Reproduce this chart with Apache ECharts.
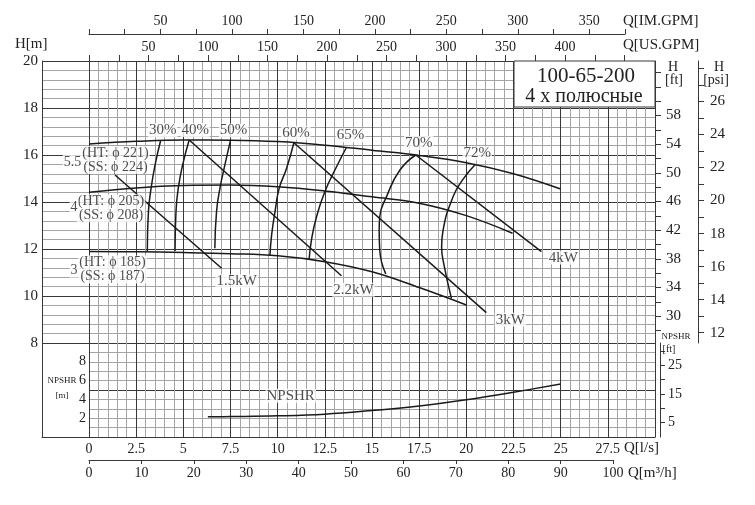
<!DOCTYPE html>
<html lang="ru">
<head>
<meta charset="UTF-8">
<title>100-65-200</title>
<style>
html, body { margin: 0; padding: 0; background: #fff; }
#chart { width: 755px; height: 505px; }
</style>
</head>
<body>
<div id="chart"></div>
<script src="https://cdn.jsdelivr.net/npm/echarts@6/dist/echarts.min.js"></script>
<script>
// H-Q curves, Q in l/s, H in m
var qCurve55 = [0, 2.5, 5, 7.5, 10, 12.5, 15, 17.5, 20, 22.5, 25];
var hCurve55 = [16.47, 16.58, 16.64, 16.63, 16.57, 16.42, 16.2, 15.98, 15.67, 15.2, 14.55];
var qCurve4 = [0, 2.5, 5, 7.5, 10, 12.5, 15, 17.5, 20, 22.45];
var hCurve4 = [14.41, 14.6, 14.7, 14.72, 14.65, 14.47, 14.22, 13.95, 13.42, 12.67];
var qCurve3 = [0, 2.5, 5, 7.5, 10, 12.5, 15, 17.5, 20];
var hCurve3 = [11.89, 11.88, 11.85, 11.8, 11.71, 11.46, 11.03, 10.36, 9.62];

// iso-efficiency curves (top point first)
var qEff30 = [3.8, 3.5, 3.29, 3.15, 3.09];
var hEff30 = [16.63, 15.57, 14.58, 13.59, 11.92];
var qEff40 = [5.31, 4.96, 4.73, 4.61, 4.56];
var hEff40 = [16.64, 15.57, 14.58, 13.59, 11.91];
var qEff50 = [7.5, 7.2, 6.94, 6.76, 6.67];
var hEff50 = [16.62, 15.57, 14.58, 13.59, 12.03];
var qEff60 = [10.86, 10.47, 10.08, 9.86, 9.68, 9.59];
var hEff60 = [16.52, 15.43, 14.58, 13.59, 12.6, 11.72];
var qEff65 = [13.65, 13.12, 12.5, 12.06, 11.79, 11.67];
var hEff65 = [16.33, 15.5, 14.44, 13.37, 12.38, 11.58];
var qEff70 = [17.32, 16.48, 15.77, 15.41, 15.38, 15.41, 15.73];
var hEff70 = [16.0, 15.36, 14.23, 13.37, 12.81, 11.96, 10.94];
var qEff72 = [20.47, 19.8, 19.3, 18.77, 18.69, 18.8, 19.21];
var hEff72 = [15.6, 14.94, 14.23, 12.81, 12.1, 11.39, 9.9];

// power lines
var qP15 = [1.38, 7.03],   hP15 = [15.15, 11.18];
var qP22 = [5.31, 13.38],  hP22 = [16.64, 10.86];
var qP3  = [10.86, 21.06], hP3  = [16.52, 9.29];
var qP4  = [17.32, 23.98], hP4  = [16.0, 11.89];

// NPSHR, m
var qNpsh = [6.3, 7.5, 10, 12.5, 15, 17.5, 20, 22.5, 25];
var nNpsh = [2.15, 2.17, 2.25, 2.43, 2.82, 3.3, 3.96, 4.76, 5.64];

// tick labels
var usGpmTicks = [], usGpmLabels = [50, 100, 150, 200, 250, 300, 350, 400];
for (var g = 0; g <= 450; g += 25) usGpmTicks.push(g);
var imGpmTicks = [], imGpmLabels = [50, 100, 150, 200, 250, 300, 350];
for (var g2 = 0; g2 <= 375; g2 += 25) imGpmTicks.push(g2);
var ftTicks = [], ftLabels = [30, 34, 38, 42, 46, 50, 54, 58];
for (var f = 28; f <= 64; f += 2) ftTicks.push(f);
var psiTicks = [], psiLabels = [12, 14, 16, 18, 20, 22, 24, 26];
for (var p = 12; p <= 28; p++) psiTicks.push(p);
var npshFtTicks = [5, 10, 15, 20, 25, 30], npshFtLabels = [5, 15, 25];
var npshMLabels = [2, 4, 6, 8];

// unit factors
var M_FT = 3.28084, M_PSI = 1.42233, LS_USGPM = 15.8503, LS_IMGPM = 13.1982, LS_M3H = 3.6;

var FONT = 'Liberation Serif';
var INK = '#222';
var MAJOR = '#383838';
var MINOR = '#a4a4a4';
var PX_PER_LS = 566 / 30;

function pairs(q, h) {
    return q.map(function (v, i) { return [v, h[i]]; });
}
function last(q, h) {
    return [q[q.length - 1], h[h.length - 1]];
}
function tag(pt, text, dx, dy, size) {
    return {
        value: pt,
        label: {
            show: true, position: 'inside', offset: [dx, dy], formatter: text,
            fontFamily: FONT, fontSize: size || 15, color: INK,
            backgroundColor: '#fff', padding: [0, 1], lineHeight: 14
        }
    };
}
function curve(q, h, smooth, yIdx) {
    return {
        type: 'line', xAxisIndex: 0, yAxisIndex: yIdx || 0,
        data: pairs(q, h), smooth: smooth, symbol: 'none', silent: true,
        lineStyle: { color: '#1a1a1a', width: 1.5 }, z: 3
    };
}
function hidden(gi) {
    return { gridIndex: gi, type: 'value', show: false, min: 0, max: 1 };
}
var lbl = { fontFamily: FONT, fontSize: 14, color: INK };

var chart = echarts.init(document.getElementById('chart'));

var option = {
    backgroundColor: '#fff',
    animation: false,
    grid: [
        { left: 89, top: 61, width: 566, height: 376, outerBoundsMode: 'none' },
        { left: 42, top: 61, width: 47, height: 282, outerBoundsMode: 'none' },
        { left: 42, top: 343, width: 47, height: 94, outerBoundsMode: 'none' },
        { left: 89, top: 34, width: 375 / LS_IMGPM * PX_PER_LS, height: 1, outerBoundsMode: 'none' },
        { left: 89, top: 459, width: 100 / LS_M3H * PX_PER_LS, height: 1, outerBoundsMode: 'none' },
        { left: 697, top: 61, width: 1, height: 282, outerBoundsMode: 'none' },
        { left: 659, top: 343, width: 1, height: 94, outerBoundsMode: 'none' }
    ],
    xAxis: [
        {
            gridIndex: 0, type: 'value', position: 'bottom', min: 0, max: 30, interval: 2.5,
            axisLine: { show: true, onZero: false, lineStyle: { color: MAJOR } },
            axisTick: { show: false },
            axisLabel: Object.assign({ margin: 5, formatter: function (v) { return v >= 30 ? '' : String(v); } }, lbl),
            splitLine: { show: true, lineStyle: { color: MAJOR, width: 1 } },
            minorTick: { show: false, splitNumber: 5 },
            minorSplitLine: { show: true, lineStyle: { color: MINOR, width: 1 } }
        },
        {
            gridIndex: 0, type: 'value', position: 'top', min: 0, max: 30 * LS_USGPM,
            axisLine: { show: true, onZero: false, lineStyle: { color: MAJOR } },
            axisTick: { show: true, length: 6, customValues: usGpmTicks, lineStyle: { color: MAJOR } },
            axisLabel: Object.assign({ margin: 7, customValues: usGpmLabels }, lbl),
            splitLine: { show: false }
        },
        hidden(1),
        {
            gridIndex: 2, type: 'value', position: 'bottom', min: 0, max: 1,
            axisLine: { show: true, onZero: false, lineStyle: { color: MAJOR } },
            axisTick: { show: false }, axisLabel: { show: false }, splitLine: { show: false }
        },
        {
            gridIndex: 3, type: 'value', position: 'top', min: 0, max: 375,
            axisLine: { show: true, onZero: false, lineStyle: { color: MAJOR } },
            axisTick: { show: true, length: 5, customValues: imGpmTicks, lineStyle: { color: MAJOR } },
            axisLabel: Object.assign({ margin: 6, customValues: imGpmLabels }, lbl),
            splitLine: { show: false }
        },
        {
            gridIndex: 4, type: 'value', position: 'bottom', min: 0, max: 100, interval: 10,
            axisLine: { show: true, onZero: false, lineStyle: { color: MAJOR } },
            axisTick: { show: true, length: 4, lineStyle: { color: MAJOR } },
            axisLabel: Object.assign({ margin: 6 }, lbl),
            splitLine: { show: false }
        },
        hidden(5),
        hidden(6)
    ],
    yAxis: [
        {
            gridIndex: 0, type: 'value', position: 'left', min: 4, max: 20, interval: 2,
            axisLine: { show: false }, axisTick: { show: false }, axisLabel: { show: false },
            splitLine: { show: true, lineStyle: { color: MAJOR, width: 1 } },
            minorTick: { show: false, splitNumber: 5 },
            minorSplitLine: { show: true, lineStyle: { color: MINOR, width: 1 } }
        },
        {
            gridIndex: 0, type: 'value', position: 'left', min: 0, max: 40,
            axisLine: { show: false }, axisTick: { show: false }, splitLine: { show: false },
            axisLabel: Object.assign({ margin: 3, customValues: npshMLabels }, lbl)
        },
        {
            gridIndex: 0, type: 'value', position: 'right', min: 4 * M_FT, max: 20 * M_FT,
            axisLine: { show: true, onZero: false, lineStyle: { color: MAJOR } },
            axisTick: { show: true, length: 6, customValues: ftTicks, lineStyle: { color: MAJOR } },
            axisLabel: Object.assign({ margin: 11, customValues: ftLabels }, lbl, { fontSize: 15 }),
            splitLine: { show: false }
        },
        {
            gridIndex: 1, type: 'value', position: 'left', min: 8, max: 20, interval: 2,
            axisLine: { show: true, onZero: false, lineStyle: { color: MAJOR } },
            axisTick: { show: false },
            axisLabel: Object.assign({ margin: 4 }, lbl, { fontSize: 15 }),
            splitLine: { show: true, lineStyle: { color: MAJOR, width: 1 } },
            minorTick: { show: false, splitNumber: 5 },
            minorSplitLine: { show: true, lineStyle: { color: MINOR, width: 1 } }
        },
        {
            gridIndex: 2, type: 'value', position: 'left', min: 0, max: 1,
            axisLine: { show: true, onZero: false, lineStyle: { color: MAJOR } },
            axisTick: { show: false }, axisLabel: { show: false }, splitLine: { show: false }
        },
        hidden(3),
        hidden(4),
        {
            gridIndex: 5, type: 'value', position: 'right', min: 8 * M_PSI, max: 20 * M_PSI,
            axisLine: { show: true, onZero: false, lineStyle: { color: MAJOR } },
            axisTick: { show: true, length: 6, customValues: psiTicks, lineStyle: { color: MAJOR } },
            axisLabel: Object.assign({ margin: 12, customValues: psiLabels }, lbl, { fontSize: 15 }),
            splitLine: { show: false }
        },
        {
            gridIndex: 6, type: 'value', position: 'right', min: 0, max: 10 * M_FT,
            axisLine: { show: true, onZero: false, lineStyle: { color: MAJOR } },
            axisTick: { show: true, length: 5, customValues: npshFtTicks, lineStyle: { color: MAJOR } },
            axisLabel: Object.assign({ margin: 8, customValues: npshFtLabels }, lbl),
            splitLine: { show: false }
        }
    ],
    series: [
        curve(qCurve55, hCurve55, 0.4),
        curve(qCurve4, hCurve4, 0.4),
        curve(qCurve3, hCurve3, 0.4),
        curve(qEff30, hEff30, 0.5),
        curve(qEff40, hEff40, 0.5),
        curve(qEff50, hEff50, 0.5),
        curve(qEff60, hEff60, 0.5),
        curve(qEff65, hEff65, 0.5),
        curve(qEff70, hEff70, 0.5),
        curve(qEff72, hEff72, 0.5),
        curve(qP15, hP15, false),
        curve(qP22, hP22, false),
        curve(qP3, hP3, false),
        curve(qP4, hP4, false),
        curve(qNpsh, nNpsh, 0.4, 1),
        {
            type: 'scatter', xAxisIndex: 0, yAxisIndex: 0, clip: false, silent: true, z: 10,
            symbol: 'rect', symbolSize: 1, itemStyle: { color: 'rgba(0,0,0,0)' },
            data: [
                tag([qEff30[0], hEff30[0]], '30%', 2, -10),
                tag([qEff40[0], hEff40[0]], '40%', 6, -10),
                tag([qEff50[0], hEff50[0]], '50%', 3, -10),
                tag([qEff60[0], hEff60[0]], '60%', 2, -10),
                tag([qEff65[0], hEff65[0]], '65%', 4, -12),
                tag([qEff70[0], hEff70[0]], '70%', 3, -12),
                tag([qEff72[0], hEff72[0]], '72%', 2, -11),
                tag(last(qP15, hP15), '1.5kW', 15, 13),
                tag(last(qP22, hP22), '2.2kW', 12, 14),
                tag(last(qP3, hP3), '3kW', 24, 7),
                tag(last(qP4, hP4), '4kW', 22, 6),
                tag([qCurve55[0], hCurve55[0]], '(HT: ϕ 221)\n(SS: ϕ 224)', 26.5, 16, 14),
                tag([qCurve55[0], hCurve55[0]], '5.5', -16.5, 18, 14),
                tag([qCurve4[0], hCurve4[0]], '(HT: ϕ 205)\n(SS: ϕ 208)', 22, 16, 14),
                tag([qCurve4[0], hCurve4[0]], '4', -15, 14.5, 14),
                tag([qCurve3[0], hCurve3[0]], '(HT: ϕ 185)\n(SS: ϕ 187)', 23.5, 18, 14),
                tag([qCurve3[0], hCurve3[0]], '3', -15, 19, 14)
            ]
        },
        {
            type: 'scatter', xAxisIndex: 0, yAxisIndex: 1, clip: false, silent: true, z: 10,
            symbol: 'rect', symbolSize: 1, itemStyle: { color: 'rgba(0,0,0,0)' },
            data: [tag([qNpsh[2], nNpsh[2]], 'NPSHR', 13, -20)]
        }
    ],
    graphic: [
        { type: 'rect', z: 100, shape: { x: 514, y: 61, width: 141, height: 46 },
          style: { fill: '#fff', stroke: MAJOR, lineWidth: 1 } },
        { type: 'text', z: 101, x: 586, y: 76, style: { text: '100-65-200', font: '21px ' + FONT, fill: INK, align: 'center', verticalAlign: 'middle' } },
        { type: 'text', z: 101, x: 584, y: 97, style: { text: '4 x полюсные', font: '20px ' + FONT, fill: INK, align: 'center', verticalAlign: 'middle' } },
        { type: 'text', z: 101, x: 15, y: 44, style: { text: 'H[m]', font: '15px ' + FONT, fill: INK, verticalAlign: 'middle' } },
        { type: 'text', z: 101, x: 623, y: 21, style: { text: 'Q[IM.GPM]', font: '15px ' + FONT, fill: INK, verticalAlign: 'middle' } },
        { type: 'text', z: 101, x: 623, y: 45, style: { text: 'Q[US.GPM]', font: '15px ' + FONT, fill: INK, verticalAlign: 'middle' } },
        { type: 'text', z: 101, x: 624, y: 448, style: { text: 'Q[l/s]', font: '15px ' + FONT, fill: INK, verticalAlign: 'middle' } },
        { type: 'text', z: 101, x: 628, y: 473, style: { text: 'Q[m³/h]', font: '15px ' + FONT, fill: INK, verticalAlign: 'middle' } },
        { type: 'text', z: 101, x: 673, y: 67, style: { text: 'H', font: '14px ' + FONT, fill: INK, align: 'center', verticalAlign: 'middle' } },
        { type: 'text', z: 101, x: 674, y: 80, style: { text: '[ft]', font: '14px ' + FONT, fill: INK, align: 'center', verticalAlign: 'middle' } },
        { type: 'text', z: 101, x: 719, y: 67, style: { text: 'H', font: '14px ' + FONT, fill: INK, align: 'center', verticalAlign: 'middle' } },
        { type: 'text', z: 101, x: 716, y: 80, style: { text: '[psi]', font: '14px ' + FONT, fill: INK, align: 'center', verticalAlign: 'middle' } },
        { type: 'text', z: 101, x: 62, y: 381, style: { text: 'NPSHR', font: '9px ' + FONT, fill: INK, align: 'center', verticalAlign: 'middle' } },
        { type: 'text', z: 101, x: 62, y: 396, style: { text: '[m]', font: '9px ' + FONT, fill: INK, align: 'center', verticalAlign: 'middle' } },
        { type: 'text', z: 101, x: 676, y: 337, style: { text: 'NPSHR', font: '9px ' + FONT, fill: INK, align: 'center', verticalAlign: 'middle' } },
        { type: 'text', z: 101, x: 669, y: 349, style: { text: '[ft]', font: '10px ' + FONT, fill: INK, align: 'center', verticalAlign: 'middle' } }
    ]
};

chart.setOption(option);
</script>
</body>
</html>
